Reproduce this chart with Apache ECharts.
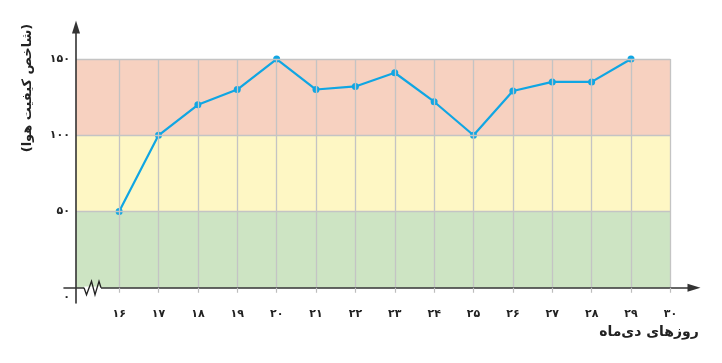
<!DOCTYPE html>
<html>
<head>
<meta charset="utf-8">
<script src="https://cdn.jsdelivr.net/npm/echarts@6/dist/echarts.min.js"></script>
<style>html,body{margin:0;padding:0;background:#fff}#c{width:722px;height:363px}</style>
</head>
<body>
<div id="c"></div>
<script>
// ---- data ----
var days = [16,17,18,19,20,21,22,23,24,25,26,27,28,29];
var aqi  = [50,100,120,130,150,130,132,141,122,100,129,135,135,150];
var xTicks = [16,17,18,19,20,21,22,23,24,25,26,27,28,29,30];
var yTicks = [0,50,100,150];
var bandEdges = [0,50,100,150];
var xTitle = 'روزهای دی‌ماه';
var yTitle = '(شاخص کیفیت هوا)';

var FA = '۰۱۲۳۴۵۶۷۸۹';
function fa(n){ return String(n).replace(/[0-9]/g, function(d){ return FA[+d]; }); }

var X_MIN = 14.6, X_MAX = 30.6, Y_MIN = -10, Y_MAX = 171;
var BAND_X0 = 14.905, BAND_X1 = 30;
var bandColors = ['#cde4c3', '#fef7c4', '#f7d1c0'];
var FONT = 'DejaVu Sans';

var areas = [];
for (var i = 0; i < bandEdges.length - 1; i++) {
  areas.push([{xAxis: BAND_X0, yAxis: bandEdges[i], itemStyle: {color: bandColors[i]}},
              {xAxis: BAND_X1, yAxis: bandEdges[i+1]}]);
}
var lines = [];
xTicks.forEach(function(d){ lines.push([{coord:[d, bandEdges[0]]},{coord:[d, bandEdges[bandEdges.length-1]]}]); });
bandEdges.slice(1).forEach(function(v){ lines.push([{coord:[BAND_X0, v]},{coord:[BAND_X1, v]}]); });

var chart = echarts.init(document.getElementById('c'), null, {renderer:'canvas'});
chart.setOption({
  animation: false,
  backgroundColor: '#fff',
  grid: {left: 64, right: 28, top: 27, bottom: 60, containLabel: false, outerBoundsMode: 'none'},
  xAxis: {
    type: 'value', min: X_MIN, max: X_MAX, z: 10,
    axisLine: {onZero: true, lineStyle: {color: '#333', width: 1.6}, symbol: ['none','triangle'], symbolSize: [8, 13]},
    axisTick: {show: true, customValues: xTicks, length: 5, lineStyle: {color: '#bdbdbd', width: 1.2}},
    axisLabel: {customValues: xTicks, formatter: function(v){ return fa(v); }, margin: 6,
      fontFamily: FONT, fontSize: 11, fontWeight: 'bold', color: '#222'},
    splitLine: {show: false},
    name: xTitle, nameLocation: 'middle', nameGap: 17,
    nameTextStyle: {fontFamily: FONT, fontSize: 14, fontWeight: 'bold', color: '#222', padding: [0, 0, 0, 540]}
  },
  yAxis: {
    type: 'value', min: Y_MIN, max: Y_MAX, offset: -12, z: 10,
    axisLine: {show: true, lineStyle: {color: '#333', width: 1.6}, symbol: ['none','triangle'], symbolSize: [8, 13]},
    axisTick: {show: false},
    axisLabel: {customValues: yTicks, margin: 6,
      formatter: function(v){ return v === 0 ? '{z|' + fa(v) + '}' : fa(v); },
      fontFamily: FONT, fontSize: 11, fontWeight: 'bold', color: '#222',
      rich: {z: {fontFamily: FONT, fontSize: 11, fontWeight: 'bold', color: '#222', padding: [18, 0, 0, 0]}}},
    splitLine: {show: false},
    name: yTitle, nameLocation: 'middle', nameRotate: 90, nameGap: 42,
    nameTextStyle: {fontFamily: FONT, fontSize: 13, fontWeight: 'bold', color: '#222', padding: [0, 0, 0, 154]}
  },
  series: [
    {
      type: 'line', data: [], z: 1, silent: true,
      markArea: {silent: true, data: areas},
      markLine: {silent: true, symbol: ['none','none'], label: {show: false},
        lineStyle: {type: 'solid', color: '#c4c4c4', width: 1.3}, data: lines}
    },
    {
      type: 'line', z: 3,
      data: days.map(function(d, i){ return [d, aqi[i]]; }),
      symbol: 'circle', symbolSize: 7,
      lineStyle: {color: '#10a6e3', width: 2.2},
      itemStyle: {color: '#10a6e3'}
    }
  ]
});

// axis break zig-zag near origin
var o = chart.convertToPixel({gridIndex: 0}, [BAND_X0, 0]);
var zx = o[0], zy = o[1];
chart.setOption({
  graphic: [
    {type: 'line', z: 100, shape: {x1: zx + 8, y1: zy, x2: zx + 25, y2: zy}, style: {stroke: '#fff', lineWidth: 2.5}},
    {type: 'polyline', z: 101, shape: {points: [[zx+8, zy],[zx+10.5, zy+7],[zx+15.5, zy-6.5],[zx+19, zy+7],[zx+23, zy-6.5],[zx+25, zy]]},
     style: {stroke: '#222', lineWidth: 1.3, fill: null}}
  ]
});
</script>
</body>
</html>
